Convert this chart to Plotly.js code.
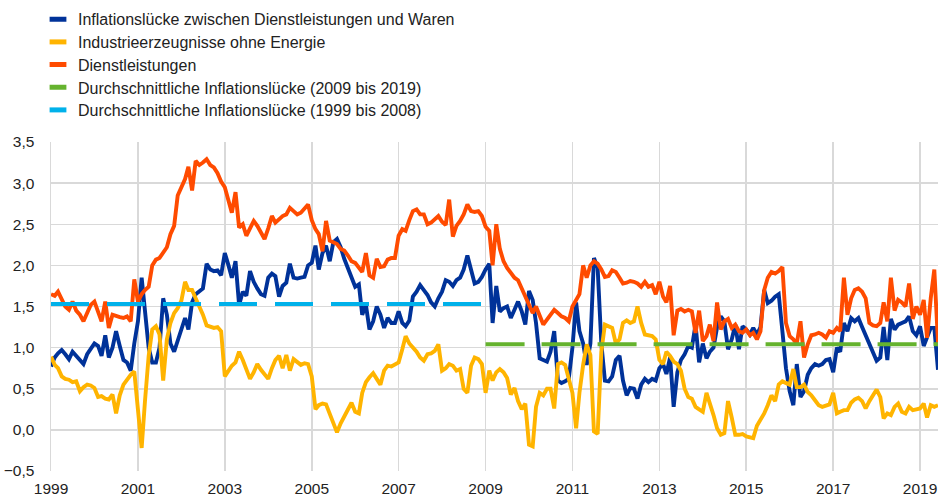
<!DOCTYPE html>
<html>
<head>
<meta charset="utf-8">
<script src="https://cdn.plot.ly/plotly-3.0.1.min.js"></script>
<style>
html,body{margin:0;padding:0;background:#fff;}
#chart{width:938px;height:497px;}
</style>
</head>
<body>
<div id="chart"></div>
<script>
// Monthly observations, January 1999 onwards (one row per year)
const startYear = 1999;

// Inflationslücke zwischen Dienstleistungen und Waren
const gap = [
  0.77, 0.88, 0.93, 0.97, 0.92, 0.86, 0.95, 0.90, 0.85, 0.80, 0.92, 0.99,
  1.05, 1.02, 0.90, 1.15, 0.88, 1.00, 1.20, 1.02, 0.85, 0.82, 0.72, 1.05,
  1.32, 1.85, 1.45, 1.00, 0.82, 0.82, 1.00, 1.60, 1.40, 1.05, 0.95, 1.08,
  1.24, 1.36, 1.22, 1.55, 1.65, 1.69, 1.72, 2.02, 1.95, 1.93, 1.94, 1.88,
  2.15, 2.00, 1.85, 2.05, 1.52, 1.68, 1.63, 1.93, 1.80, 1.72, 1.65, 1.63,
  1.85, 1.90, 1.87, 1.62, 1.75, 1.79, 2.02, 1.85, 1.84, 1.85, 1.86, 2.00,
  2.03, 2.24, 1.95, 2.15, 2.24, 2.05, 2.28, 2.32, 2.22, 2.08, 1.97, 1.85,
  1.74, 1.77, 1.40, 1.52, 1.22, 1.32, 1.50, 1.40, 1.24, 1.36, 1.30, 1.30,
  1.44, 1.30, 1.26, 1.33, 1.62, 1.68, 1.76, 1.70, 1.64, 1.55, 1.50, 1.60,
  1.68, 1.82, 1.80, 1.75, 1.82, 1.85, 1.95, 2.12, 1.95, 1.78, 1.80, 1.86,
  1.95, 2.02, 1.30, 1.75, 1.44, 1.48, 1.50, 1.36, 1.46, 1.56, 1.44, 1.28,
  1.69, 1.58, 1.30, 0.87, 0.85, 0.83, 0.95, 1.20, 0.60, 0.57, 0.59, 0.62,
  1.00, 1.55, 1.20, 1.05, 0.79, 1.05, 2.09, 1.97, 1.05, 0.60, 0.59, 0.65,
  0.85, 0.90, 0.60, 0.42, 0.51, 0.50, 0.38, 0.55, 0.62, 0.58, 0.62, 0.60,
  0.75, 0.80, 0.68, 0.88, 0.28, 0.70, 0.85, 0.92, 1.02, 1.00, 1.28, 0.82,
  1.05, 0.87, 0.95, 1.00, 1.25, 1.38, 1.32, 0.98, 1.10, 1.28, 0.98, 1.26,
  1.22, 1.16, 1.24, 1.16, 1.25, 1.70, 1.54, 1.57, 1.62, 1.65, 1.20, 0.75,
  0.47, 0.30, 0.80, 0.40, 0.47, 0.67, 0.75, 0.80, 0.78, 0.80, 0.85, 0.86,
  0.70, 1.00, 0.95, 1.30, 1.20, 1.36, 1.32, 1.36, 1.25, 1.15, 1.02, 0.92,
  0.84, 0.88, 1.25, 0.85, 1.35, 1.22, 1.28, 1.30, 1.32, 1.38, 1.20, 1.15,
  1.26, 1.02, 1.12, 1.24, 1.24, 0.73
];

// Industrieerzeugnisse ohne Energie
const goods = [
  0.89, 0.79, 0.75, 0.65, 0.62, 0.61, 0.58, 0.59, 0.47, 0.52, 0.55, 0.54,
  0.51, 0.40, 0.41, 0.38, 0.37, 0.43, 0.20, 0.42, 0.55, 0.62, 0.67, 0.71,
  0.20, -0.22, 0.35, 0.90, 1.22, 1.26, 1.16, 0.60, 1.10, 1.30, 1.42, 1.48,
  1.57, 1.80, 1.70, 1.70, 1.60, 1.50, 1.40, 1.27, 1.25, 1.24, 1.25, 1.20,
  0.65, 0.72, 0.78, 0.82, 0.95, 0.85, 0.75, 0.62, 0.70, 0.80, 0.73, 0.68,
  0.62, 0.75, 0.85, 0.90, 0.75, 0.91, 0.72, 0.86, 0.82, 0.79, 0.81, 0.80,
  0.65, 0.25, 0.30, 0.32, 0.31, 0.20, 0.10, -0.03, 0.08, 0.16, 0.24, 0.33,
  0.22, 0.20, 0.45, 0.58, 0.64, 0.69, 0.62, 0.55, 0.72, 0.78, 0.77, 0.79,
  0.82, 0.98, 1.14, 1.05, 1.00, 0.95, 0.88, 0.84, 0.92, 0.93, 0.96, 1.04,
  0.72, 0.75, 0.80, 0.78, 0.72, 0.74, 0.50, 0.45, 0.78, 0.88, 0.86, 0.80,
  0.45, 0.72, 0.60, 0.70, 0.74, 0.70, 0.63, 0.43, 0.51, 0.35, 0.25, 0.32,
  -0.18, -0.20, 0.28, 0.45, 0.42, 0.50, 0.50, 0.26, 0.80, 0.82, 0.79, 0.62,
  0.45, 0.02, 0.45, 0.79, 1.04, 0.91, -0.02, -0.05, 0.95, 1.28, 1.26, 1.24,
  1.05, 1.10, 1.30, 1.33, 1.30, 1.32, 1.50, 1.30, 1.16, 1.15, 1.14, 1.10,
  0.85, 0.80, 0.95, 0.90, 0.83, 0.80, 0.72, 0.50, 0.40, 0.38, 0.28, 0.25,
  0.22, 0.45, 0.30, 0.18, 0.02, -0.06, -0.04, 0.35, 0.15, -0.06, -0.06, -0.05,
  -0.08, -0.09, -0.10, 0.05, 0.12, 0.20, 0.30, 0.42, 0.35, 0.55, 0.59, 0.57,
  0.55, 0.74, 0.52, 0.52, 0.55, 0.46, 0.42, 0.36, 0.30, 0.28, 0.30, 0.31,
  0.45, 0.20, 0.22, 0.24, 0.24, 0.33, 0.37, 0.39, 0.35, 0.26, 0.35, 0.43,
  0.49, 0.40, 0.14, 0.20, 0.18, 0.28, 0.32, 0.22, 0.20, 0.28, 0.24, 0.25,
  0.26, 0.32, 0.15, 0.30, 0.28, 0.30
];

// Dienstleistungen
const services = [
  1.65, 1.63, 1.68, 1.58, 1.50, 1.46, 1.56, 1.45, 1.40, 1.32, 1.42, 1.52,
  1.56, 1.45, 1.32, 1.56, 1.24, 1.40, 1.38, 1.37, 1.36, 1.38, 1.32, 1.83,
  1.56, 1.65, 1.70, 1.74, 2.00, 2.07, 2.09, 2.15, 2.22, 2.38, 2.48, 2.85,
  2.95, 3.05, 3.20, 2.91, 3.27, 3.22, 3.25, 3.29, 3.22, 3.19, 3.12, 3.02,
  2.95, 2.78, 2.64, 2.89, 2.46, 2.50, 2.36, 2.45, 2.54, 2.48, 2.40, 2.32,
  2.45, 2.60, 2.52, 2.56, 2.60, 2.62, 2.70, 2.66, 2.62, 2.64, 2.70, 2.74,
  2.55, 2.44, 2.38, 2.17, 2.54, 2.30, 2.28, 2.26, 2.20, 2.18, 2.12, 2.05,
  2.03, 1.98, 1.92, 2.15, 1.88, 1.85, 2.08, 1.98, 1.99, 2.07, 2.09, 2.09,
  2.36, 2.44, 2.42, 2.55, 2.66, 2.68, 2.62, 2.62, 2.50, 2.52, 2.56, 2.60,
  2.53, 2.49, 2.80, 2.35, 2.48, 2.54, 2.62, 2.74, 2.66, 2.65, 2.66, 2.60,
  2.47, 2.42, 2.00, 2.50, 2.20, 2.05, 1.97, 1.90, 1.85, 1.82, 1.72, 1.62,
  1.52, 1.42, 1.50, 1.40, 1.28, 1.34, 1.40, 1.46, 1.42, 1.38, 1.36, 1.32,
  1.50, 1.58, 1.65, 2.00, 1.85, 2.00, 2.05, 2.02, 1.95, 1.86, 1.87, 1.94,
  1.92, 1.85, 1.78, 1.79, 1.81, 1.80, 1.78, 1.74, 1.80, 1.74, 1.76, 1.65,
  1.80, 1.62, 1.55, 1.75, 1.15, 1.45, 1.47, 1.44, 1.46, 1.44, 1.18, 1.45,
  1.08, 1.14, 1.28, 1.08, 1.55, 1.22, 1.32, 1.35, 1.24, 1.28, 1.20, 1.18,
  1.22, 1.15, 1.18, 1.10, 1.20, 1.70, 1.85, 1.92, 1.90, 1.93, 1.98, 1.30,
  1.14, 1.10, 1.05, 1.32, 0.88, 1.04, 1.15, 1.16, 1.18, 1.16, 1.12, 1.20,
  1.18, 1.24, 1.20, 1.85, 1.40, 1.60, 1.70, 1.72, 1.68, 1.60, 1.30, 1.27,
  1.26, 1.30, 1.55, 1.32, 1.85, 1.45, 1.58, 1.55, 1.50, 1.78, 1.35, 1.50,
  1.40, 1.58, 1.12, 1.60, 1.95, 1.06
];

// Average gaps and their periods
const avgPre = [1.53, 1.53];
const avgPrePeriod = ['1999-01-01', '2009-01-01'];
const avgPost = [1.04, 1.04];
const avgPostPeriod = ['2009-01-01', '2019-06-01'];

const names = [
  'Inflationslücke zwischen Dienstleistungen und Waren',
  'Industrieerzeugnisse ohne Energie',
  'Dienstleistungen',
  'Durchschnittliche Inflationslücke (2009 bis 2019)',
  'Durchschnittliche Inflationslücke (1999 bis 2008)'
];
const colors = ['#003299', '#FFB400', '#FF4B00', '#65B32E', '#00B1EA'];

const months = gap.map((_, i) => {
  const y = startYear + Math.floor(i / 12);
  const m = (i % 12) + 1;
  return y + '-' + String(m).padStart(2, '0') + '-01';
});

const FONT = 'Liberation Sans, Arial, sans-serif';

const traces = [
  {x: months, y: gap, name: names[0], mode: 'lines', line: {color: colors[0], width: 3.9}, showlegend: false},
  {x: months, y: goods, name: names[1], mode: 'lines', line: {color: colors[1], width: 3.9}, showlegend: false},
  {x: months, y: services, name: names[2], mode: 'lines', line: {color: colors[2], width: 3.9}, showlegend: false},
  {x: avgPostPeriod, y: avgPost, name: names[3], mode: 'lines', line: {color: colors[3], width: 4, dash: '39px,17px'}, showlegend: false},
  {x: avgPrePeriod, y: avgPre, name: names[4], mode: 'lines', line: {color: colors[4], width: 4, dash: '38px,18px'}, showlegend: false}
];

// one legend per entry so that the rows sit at the original spacing
const legendIds = ['legend', 'legend2', 'legend3', 'legend4', 'legend5'];
names.forEach((n, i) => {
  traces.push({
    x: [null], y: [null], name: n, mode: 'markers', legend: legendIds[i],
    marker: {symbol: 'line-ew', size: 12, color: colors[i], line: {color: colors[i], width: 5}},
    hoverinfo: 'skip', showlegend: true
  });
});

const layout = {
  width: 938, height: 497,
  margin: {l: 51, r: 0, t: 142, b: 26, pad: 0, autoexpand: false},
  paper_bgcolor: '#ffffff', plot_bgcolor: '#ffffff',
  separators: ',.',
  font: {family: FONT, size: 15, color: '#222222'},
  showlegend: true,
  xaxis: {
    type: 'date',
    range: ['1999-01-01', '2019-06-01'],
    tick0: '1999-01-01', dtick: 'M24', tickformat: '%Y',
    showgrid: true, gridcolor: '#d9d9d9', gridwidth: 1.5,
    zeroline: false, showline: false, ticks: '',
    ticklabelstandoff: 6,
    tickfont: {family: FONT, size: 15.5, color: '#222222'},
    fixedrange: true
  },
  yaxis: {
    range: [-0.5, 3.5], tick0: 0, dtick: 0.5, tickformat: '.1f',
    showgrid: true, gridcolor: '#d9d9d9', gridwidth: 1.5,
    zeroline: false, showline: true, linecolor: '#d9d9d9', linewidth: 1.5,
    ticks: '', ticklabelstandoff: 12,
    tickfont: {family: FONT, size: 15.5, color: '#222222'},
    fixedrange: true
  }
};

const legendTops = [2.3, 25, 47.7, 70.4, 93];
legendIds.forEach((id, i) => {
  layout[id] = {
    xref: 'container', yref: 'container',
    x: 38 / 938, y: 1 - legendTops[i] / 497, xanchor: 'left', yanchor: 'top',
    font: {family: FONT, size: 16, color: '#222222'},
    bgcolor: 'rgba(0,0,0,0)', borderwidth: 0
  };
});

Plotly.newPlot('chart', traces, layout, {displayModeBar: false, staticPlot: true});
</script>
</body>
</html>
